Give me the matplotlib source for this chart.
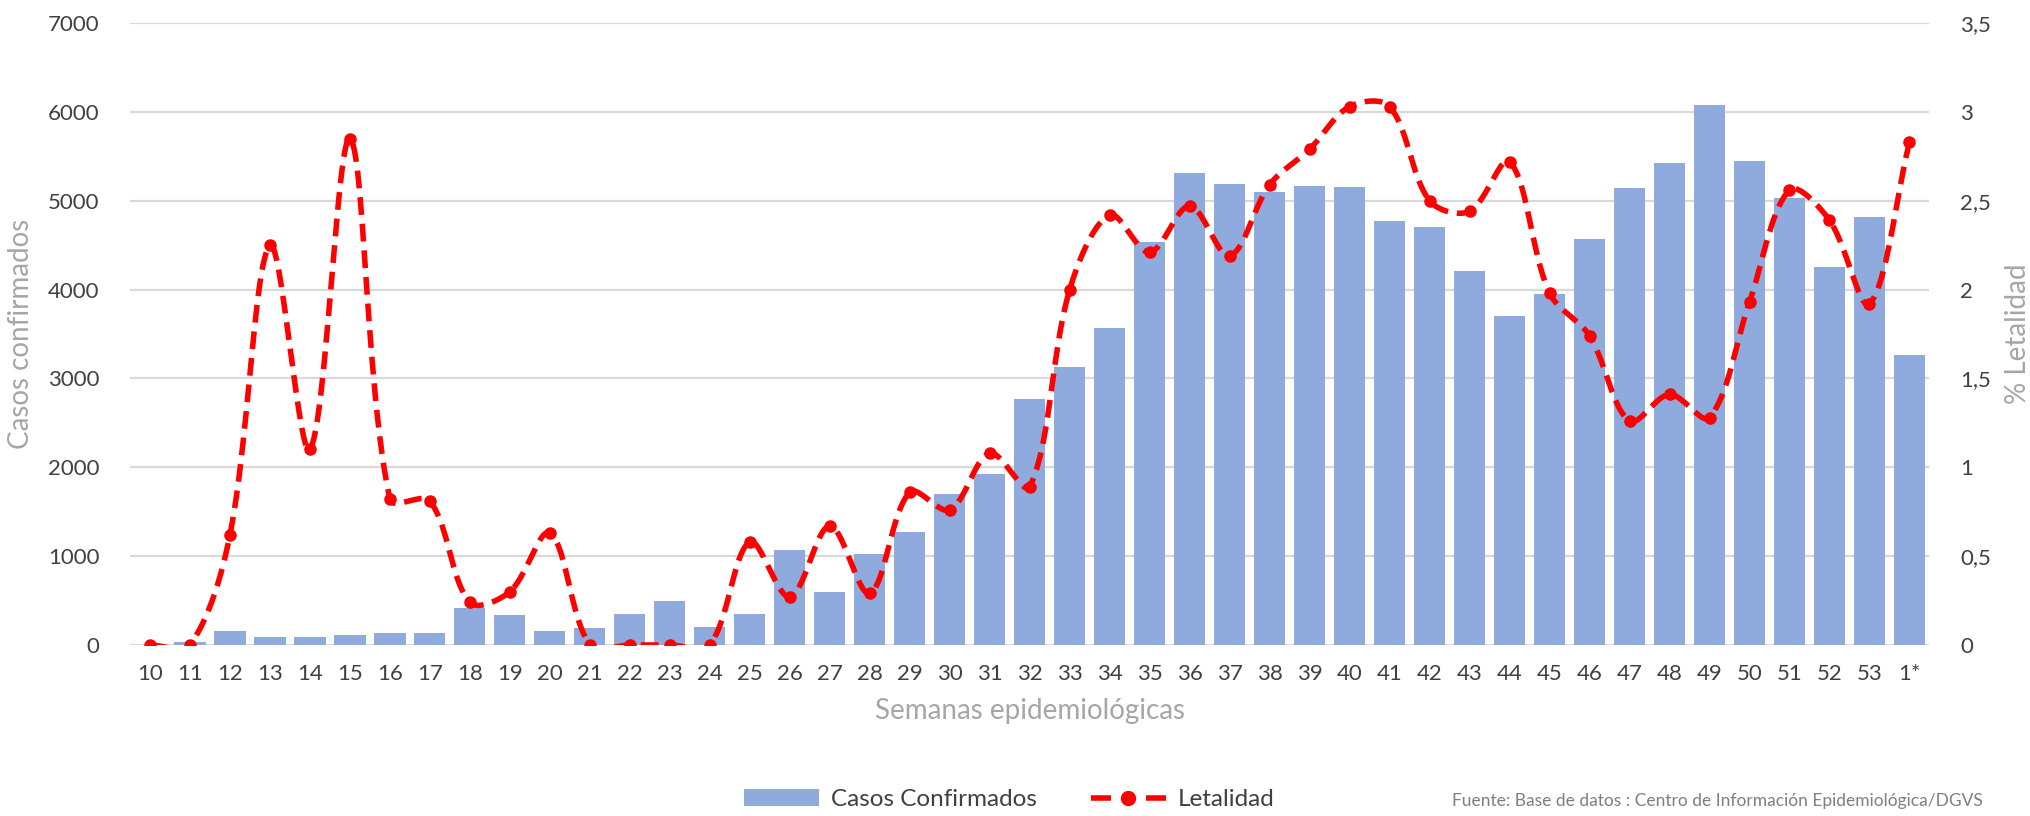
import numpy as np
import matplotlib
matplotlib.use('Agg')
import matplotlib.pyplot as plt
from matplotlib.patches import Patch
from matplotlib.lines import Line2D
from matplotlib.ticker import FuncFormatter

plt.rcParams['font.family'] = ['Lato', 'DejaVu Sans']

semanas = [str(s) for s in range(10, 54)] + ['1*']
casos = [0, 30, 155, 90, 90, 110, 130, 130, 415, 335, 155, 188, 346, 491, 200,
         346, 1073, 591, 1023, 1268, 1699, 1925, 2767, 3133, 3569, 4536, 5308,
         5188, 5103, 5168, 5152, 4769, 4704, 4207, 3705, 3946, 4573, 5141, 5427,
         6074, 5447, 5025, 4252, 4819, 3268]
letalidad = [0, 0, 0.62, 2.25, 1.10, 2.85, 0.82, 0.81, 0.24, 0.30, 0.63, 0, 0, 0,
             0, 0.58, 0.27, 0.67, 0.29, 0.86, 0.76, 1.08, 0.89, 2.00, 2.42, 2.21,
             2.47, 2.19, 2.59, 2.79, 3.03, 3.03, 2.50, 2.44, 2.72, 1.98, 1.74,
             1.26, 1.41, 1.28, 1.93, 2.56, 2.39, 1.92, 2.83]

BAR = '#8FAADC'
RED = '#FF0000'
TICK = '#404040'
TITLE = '#A6A6A6'


def smooth(x, y, sx=40.0, sy=178.0, n=24):
    # cubic Bezier through the points, tangents weighted by chord length
    # (measured in screen-like units so steep segments don't overshoot)
    P = np.column_stack([np.asarray(x, float) * sx, np.asarray(y, float) * sy])
    m = len(P)
    ext = np.vstack([P[0], P, P[-1]])
    t = np.linspace(0, 1, n, endpoint=False)[:, None]
    pts = []
    for i in range(m - 1):
        p0, p1, p2, p3 = ext[i], ext[i + 1], ext[i + 2], ext[i + 3]
        d01 = np.hypot(*(p1 - p0))
        d12 = np.hypot(*(p2 - p1))
        d23 = np.hypot(*(p3 - p2))
        c1 = p1 + (p2 - p0) * (d12 / max(d01 + d12, 1e-9)) / 3
        c2 = p2 - (p3 - p1) * (d12 / max(d12 + d23, 1e-9)) / 3
        seg = ((1 - t) ** 3 * p1 + 3 * (1 - t) ** 2 * t * c1
               + 3 * (1 - t) * t ** 2 * c2 + t ** 3 * p2)
        pts.append(seg)
    pts.append(P[-1][None, :])
    pts = np.vstack(pts)
    return pts[:, 0] / sx, pts[:, 1] / sy


fig = plt.figure(figsize=(20.31, 8.16), dpi=100, facecolor='white')
ax = fig.add_axes([0.064, 0.2096, 0.886, 0.7622])

x = np.arange(len(semanas))
ax.bar(x, casos, width=0.78, color=BAR, zorder=2)
ax.set_xlim(-0.5, len(semanas) - 0.5)
ax.set_ylim(0, 7000)
ax.set_yticks(range(0, 7001, 1000))
ax.set_xticks(x)
ax.set_xticklabels(semanas)
ax.grid(axis='y', color='#D9D9D9', linewidth=1.6, zorder=0)
ax.set_axisbelow(True)
for s in ax.spines.values():
    s.set_visible(False)
ax.tick_params(length=0, labelsize=16, colors=TICK)
ax.tick_params(axis='y', pad=22)
ax.tick_params(axis='x', pad=14)
ax.set_ylabel('Casos confirmados', fontsize=20, color=TITLE, labelpad=10)
ax.set_xlabel('Semanas epidemiológicas', fontsize=20, color=TITLE, labelpad=10)

ax2 = ax.twinx()
ax2.set_ylim(0, 3.5)
ax2.set_yticks(np.arange(0, 3.51, 0.5))
ax2.yaxis.set_major_formatter(FuncFormatter(lambda v, p: f'{v:g}'.replace('.', ',')))
for s in ax2.spines.values():
    s.set_visible(False)
ax2.tick_params(length=0, labelsize=16, colors=TICK, pad=22)
ax2.set_ylabel('% Letalidad', fontsize=20, color=TITLE, labelpad=10)

xs, ys = smooth(x, letalidad)
ax2.plot(xs, ys, color=RED, linewidth=4, dashes=(3.2, 1.6), zorder=3)
ax2.plot(x, letalidad, 'o', color=RED, markersize=8, zorder=4)

handles = [Patch(facecolor=BAR, label='Casos Confirmados'),
           Line2D([0], [0], color=RED, linewidth=4, linestyle=(0, (3.6, 6.3)),
                  marker='o', markersize=10, label='Letalidad')]
fig.legend(handles=handles, loc='center', bbox_to_anchor=(0.497, 0.02),
           ncol=2, frameon=False, fontsize=17.5, labelcolor=TICK,
           handlelength=3.1, handletextpad=0.5, columnspacing=2.2)

fig.text(0.976, 0.018, 'Fuente: Base de datos : Centro de Información Epidemiológica/DGVS',
         ha='right', va='center', fontsize=12.5, color='#7F7F7F')

fig.savefig('out.png', dpi=100, facecolor='white')
